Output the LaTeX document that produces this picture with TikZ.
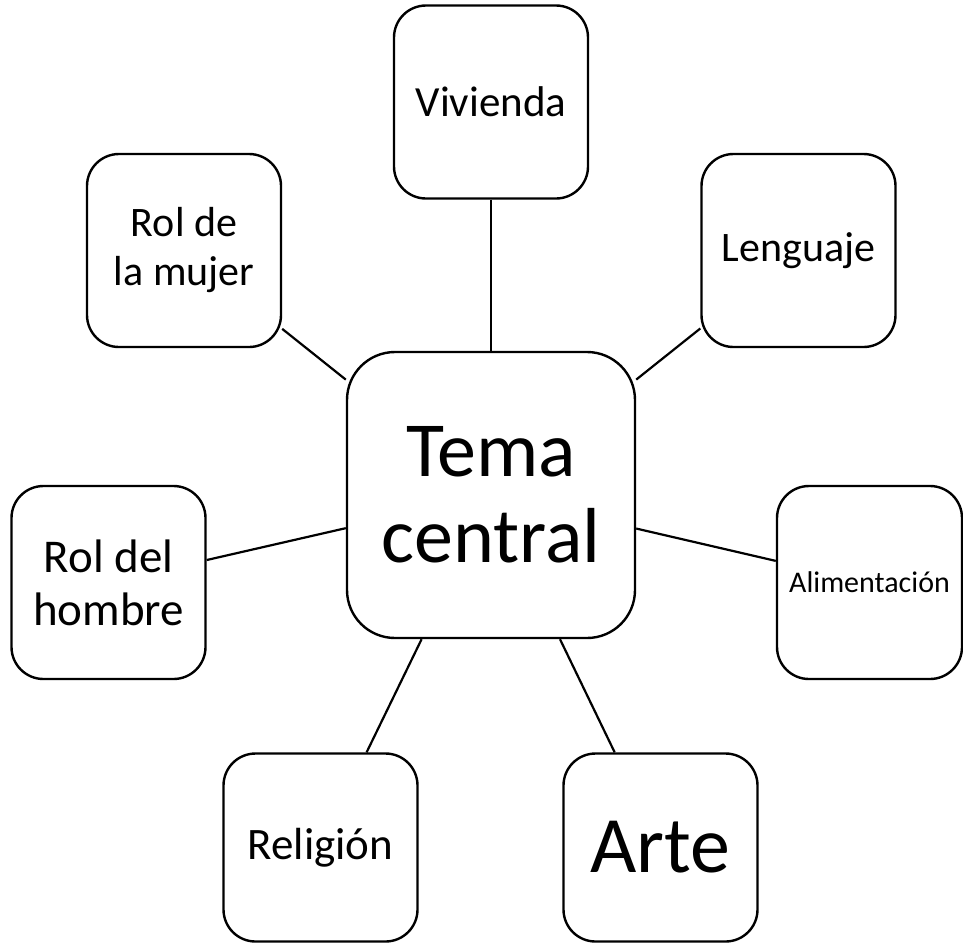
\documentclass[tikz,border=0pt]{standalone}
\usepackage{fontspec}
\setmainfont{Carlito}
\usepackage{tikz}

\begin{document}
\begin{tikzpicture}[
  x=1pt, y=-1pt,
  topic/.style={draw, line width=2.4pt, rounded corners=32pt, minimum width=194pt, minimum height=193pt, inner sep=0pt, align=center, fill=white},
  hub/.style={topic, rounded corners=48pt, minimum width=288pt, minimum height=286pt},
  spoke/.style={line width=2.2pt}
]
\useasboundingbox (0,0) rectangle (963,943);

\node[hub, font=\fontsize{78}{86}\selectfont] (centro) at (491,495) {Tema\\central};

\node[topic, font=\fontsize{43}{50}\selectfont] (vivienda) at (491,102) {Vivienda};
\node[topic, font=\fontsize{42}{49}\selectfont] (mujer) at (184,250.5) {Rol de\\la mujer};
\node[topic, font=\fontsize{42}{50}\selectfont] (lenguaje) at (798.5,250.5) {Lenguaje};
\node[topic, font=\fontsize{47}{53}\selectfont] (hombre) at (108.5,582.5) {Rol del\\hombre};
\node[topic, minimum width=185pt, font=\fontsize{30}{35}\selectfont] (alimentacion) at (869.5,582.5) {Alimentación};
\node[topic, minimum height=188pt, font=\fontsize{45}{53}\selectfont] (religion) at (320.5,847.5) {Religión};
\node[topic, minimum height=188pt, font=\fontsize{80}{90}\selectfont] (arte) at (660.5,847.5) {Arte};

\draw[spoke] (vivienda) -- (centro);
\draw[spoke] (mujer) -- (centro);
\draw[spoke] (lenguaje) -- (centro);
\draw[spoke] (hombre) -- (centro);
\draw[spoke] (alimentacion) -- (centro);
\draw[spoke] (religion) -- (centro);
\draw[spoke] (arte) -- (centro);

\end{tikzpicture}
\end{document}
